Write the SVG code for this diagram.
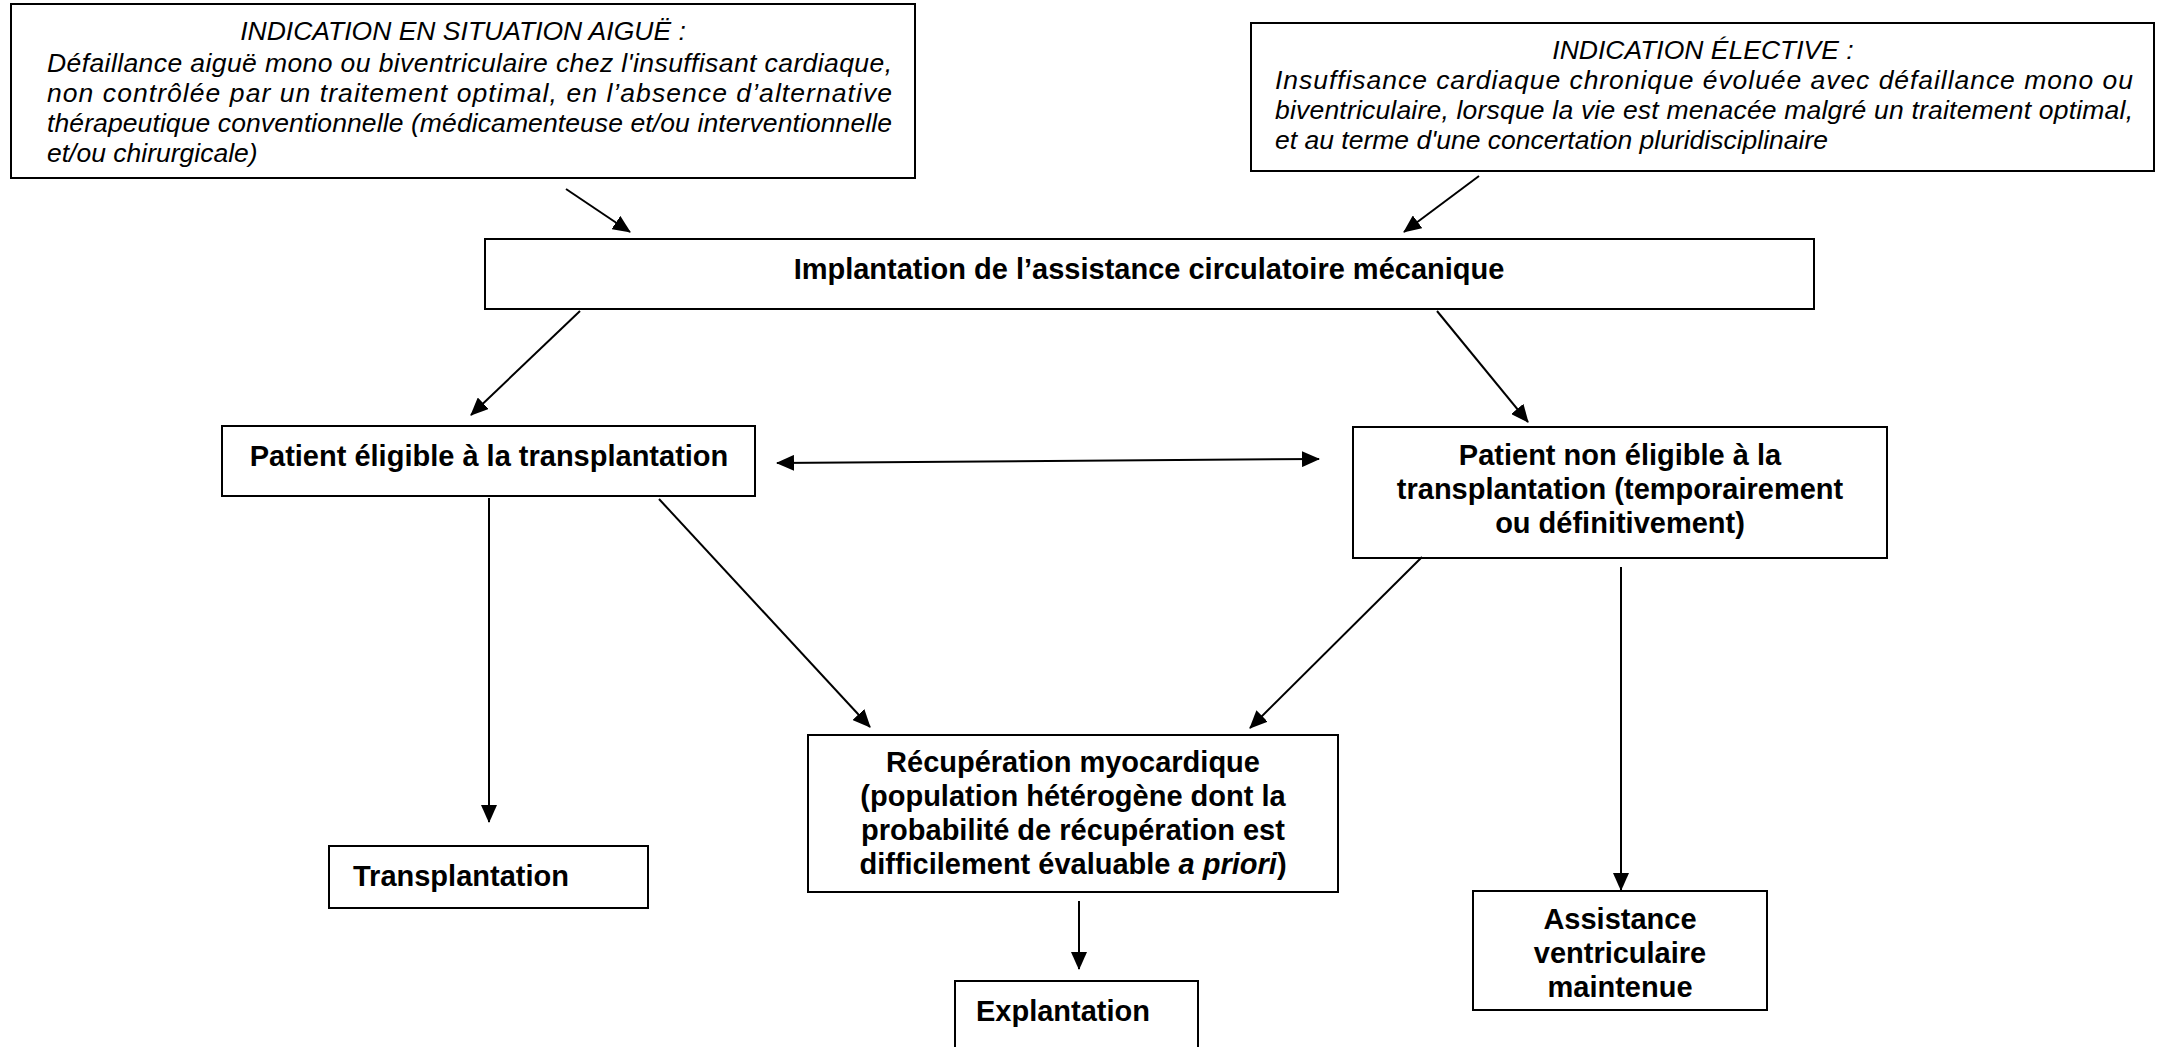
<svg xmlns="http://www.w3.org/2000/svg" width="2161" height="1047" viewBox="0 0 2161 1047">
<style>
  .box { fill: #ffffff; stroke: #000000; stroke-width: 2; }
  .it { font-family: "Liberation Sans", Arial, sans-serif; font-style: italic; font-size: 26.5px; fill: #000; }
  .bd { font-family: "Liberation Sans", Arial, sans-serif; font-weight: bold; font-size: 29px; fill: #000; }
  .mid { text-anchor: middle; }
  .conn line { stroke: #000; stroke-width: 2; fill: none; }
</style>
<defs>
  <marker id="ah" markerUnits="userSpaceOnUse" markerWidth="18" markerHeight="16" refX="17" refY="8" orient="auto-start-reverse" viewBox="0 0 18 16">
    <path d="M0,0 L18,8 L0,16 z" fill="#000"/>
  </marker>
</defs>
<rect width="2161" height="1047" fill="#ffffff"/>

<g id="node-aigue">
  <rect class="box" x="11" y="4" width="904" height="174"/>
  <text class="it mid" x="463" y="40">INDICATION EN SITUATION AIGUË :</text>
  <text class="it" x="47" y="72" textLength="845" lengthAdjust="spacing">Défaillance aiguë mono ou biventriculaire chez l'insuffisant cardiaque,</text>
  <text class="it" x="47" y="102" textLength="845" lengthAdjust="spacing">non contrôlée par un traitement optimal, en l’absence d’alternative</text>
  <text class="it" x="47" y="132" textLength="845" lengthAdjust="spacing">thérapeutique conventionnelle (médicamenteuse et/ou interventionnelle</text>
  <text class="it" x="47" y="162">et/ou chirurgicale)</text>
</g>

<g id="node-elective">
  <rect class="box" x="1251" y="23" width="903" height="148"/>
  <text class="it mid" x="1703" y="59">INDICATION ÉLECTIVE :</text>
  <text class="it" x="1275" y="89" textLength="858" lengthAdjust="spacing">Insuffisance cardiaque chronique évoluée avec défaillance mono ou</text>
  <text class="it" x="1275" y="119" textLength="858" lengthAdjust="spacing">biventriculaire, lorsque la vie est menacée malgré un traitement optimal,</text>
  <text class="it" x="1275" y="149">et au terme d'une concertation pluridisciplinaire</text>
</g>

<g id="node-implantation">
  <rect class="box" x="485" y="239" width="1329" height="70"/>
  <text class="bd mid" x="1149" y="279">Implantation de l’assistance circulatoire mécanique</text>
</g>

<g id="node-eligible">
  <rect class="box" x="222" y="426" width="533" height="70"/>
  <text class="bd mid" x="489" y="466">Patient éligible à la transplantation</text>
</g>

<g id="node-non-eligible">
  <rect class="box" x="1353" y="427" width="534" height="131"/>
  <text class="bd mid" x="1620" y="465">Patient non éligible à la</text>
  <text class="bd mid" x="1620" y="499">transplantation (temporairement</text>
  <text class="bd mid" x="1620" y="533">ou définitivement)</text>
</g>

<g id="node-recuperation">
  <rect class="box" x="808" y="735" width="530" height="157"/>
  <text class="bd mid" x="1073" y="772">Récupération myocardique</text>
  <text class="bd mid" x="1073" y="806">(population hétérogène dont la</text>
  <text class="bd mid" x="1073" y="840">probabilité de récupération est</text>
  <text class="bd mid" x="1073" y="874">difficilement évaluable <tspan font-style="italic">a priori</tspan>)</text>
</g>

<g id="node-transplantation">
  <rect class="box" x="329" y="846" width="319" height="62"/>
  <text class="bd" x="353" y="886">Transplantation</text>
</g>

<g id="node-explantation">
  <rect class="box" x="955" y="981" width="243" height="90"/>
  <text class="bd" x="976" y="1021">Explantation</text>
</g>

<g id="node-assistance">
  <rect class="box" x="1473" y="891" width="294" height="119"/>
  <text class="bd mid" x="1620" y="929">Assistance</text>
  <text class="bd mid" x="1620" y="963">ventriculaire</text>
  <text class="bd mid" x="1620" y="997">maintenue</text>
</g>

<g id="connectors" class="conn">
  <line x1="566" y1="189" x2="630" y2="232" marker-end="url(#ah)"/>
  <line x1="1479" y1="176" x2="1404" y2="232" marker-end="url(#ah)"/>
  <line x1="580" y1="311" x2="471" y2="415" marker-end="url(#ah)"/>
  <line x1="1437" y1="311" x2="1528" y2="422" marker-end="url(#ah)"/>
  <line x1="777" y1="463" x2="1319" y2="459" marker-start="url(#ah)" marker-end="url(#ah)"/>
  <line x1="489" y1="498" x2="489" y2="822" marker-end="url(#ah)"/>
  <line x1="659" y1="499" x2="870" y2="727" marker-end="url(#ah)"/>
  <line x1="1422" y1="557" x2="1250" y2="728" marker-end="url(#ah)"/>
  <line x1="1621" y1="567" x2="1621" y2="890" marker-end="url(#ah)"/>
  <line x1="1079" y1="901" x2="1079" y2="969" marker-end="url(#ah)"/>
</g>
</svg>
